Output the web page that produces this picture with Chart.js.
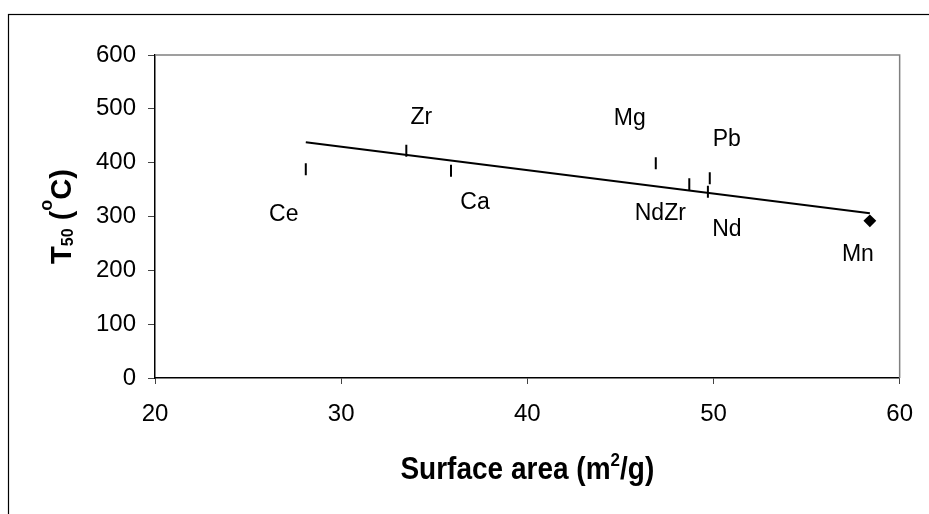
<!DOCTYPE html>
<html>
<head>
<meta charset="UTF-8">
<title>T50 vs surface area</title>
<script src="https://cdn.jsdelivr.net/npm/chart.js@4.4.0/dist/chart.umd.min.js"></script>
<style>
  html, body { margin: 0; padding: 0; background: #fff; }
  #wrap { width: 929px; height: 514px; }
</style>
</head>
<body>
<div id="wrap"><canvas id="c" width="929" height="514"></canvas></div>
<script>
// values
const catalysts = ["Ce", "Zr", "Ca", "Mg", "NdZr", "Pb", "Nd", "Mn"];
const surfaceArea = [28.1, 33.5, 35.9, 46.9, 48.7, 49.8, 49.7, 58.4];
const t50 = [388, 422, 385, 399, 360, 371, 346, 292];
// linear trendline, its two ends
const trendX = [28.1, 58.4];
const trendY = [438, 306];
const xTicks = [20, 30, 40, 50, 60];
const yTicks = [0, 100, 200, 300, 400, 500, 600];

// label placement next to each point, in px (style only)
const labelShift = [[-22, 46], [15, -33], [24, 32], [-26, -45], [-29, 29], [17, -39], [19, 38], [-12, 34]];

const FONT = "'Liberation Sans', Arial, sans-serif";

function drawRich(ctx, parts, size) {
  let total = 0;
  const m = parts.map(([t, s, d]) => {
    ctx.font = "bold " + Math.round(size * s) + "px " + FONT;
    const w = ctx.measureText(t).width;
    total += w;
    return { t, s, d, w };
  });
  let x = -total / 2;
  for (const p of m) {
    ctx.font = "bold " + Math.round(size * p.s) + "px " + FONT;
    ctx.fillText(p.t, x, p.d * size);
    x += p.w;
  }
}

const frame = {
  id: "frame",
  beforeDraw(chart) {
    const ctx = chart.ctx;
    ctx.save();
    ctx.strokeStyle = "#000";
    ctx.lineWidth = 1.2;
    ctx.strokeRect(8.5, 14.5, chart.width + 20, chart.height + 20);
    ctx.restore();
  },
  beforeDatasetsDraw(chart) {
    const { ctx, chartArea: a } = chart;
    ctx.save();
    ctx.strokeStyle = "#808080";
    ctx.lineWidth = 1.5;
    ctx.beginPath();
    ctx.moveTo(a.left, a.top);
    ctx.lineTo(a.right, a.top);
    ctx.lineTo(a.right, a.bottom);
    ctx.stroke();
    ctx.restore();
  },
};

const pointLabels = {
  id: "pointLabels",
  afterDatasetsDraw(chart) {
    const ctx = chart.ctx;
    const pts = chart.getDatasetMeta(1).data;
    ctx.save();
    ctx.fillStyle = "#000";
    ctx.font = "23px " + FONT;
    ctx.textAlign = "center";
    ctx.textBaseline = "middle";
    pts.forEach((p, i) => {
      ctx.fillText(catalysts[i], p.x + labelShift[i][0], p.y + labelShift[i][1]);
    });
    ctx.restore();
  },
};

const titles = {
  id: "titles",
  afterDraw(chart) {
    const { ctx, chartArea: a } = chart;
    ctx.save();
    ctx.fillStyle = "#000";
    ctx.textAlign = "left";
    ctx.textBaseline = "alphabetic";
    // x title
    ctx.save();
    ctx.translate((a.left + a.right) / 2, 479);
    ctx.scale(1, 1.1);
    drawRich(ctx, [["Surface area (m", 1, 0], ["2", 0.62, -0.42], ["/g)", 1, 0]], 28);
    ctx.restore();
    // y title
    ctx.save();
    ctx.translate(71, (a.top + a.bottom) / 2);
    ctx.rotate(-Math.PI / 2);
    drawRich(ctx, [["T", 1, 0], ["50", 0.55, 0.06], [" (", 1, 0], ["o", 0.62, -0.66], ["C)", 1, 0]], 29);
    ctx.restore();
    ctx.restore();
  },
};

new Chart(document.getElementById("c"), {
  type: "scatter",
  data: {
    datasets: [
      {
        type: "line",
        data: trendX.map((x, i) => ({ x, y: trendY[i] })),
        borderColor: "#000",
        borderWidth: 2,
        pointRadius: 0,
        fill: false,
        tension: 0,
      },
      {
        data: surfaceArea.map((x, i) => ({ x, y: t50[i] })),
        pointStyle: catalysts.map(c => (c === "Mn" ? "rectRot" : "line")),
        pointRotation: catalysts.map(c => (c === "Mn" ? 0 : 90)),
        pointRadius: catalysts.map(c => (c === "Mn" ? 5 : 6)),
        pointBorderWidth: 2,
        pointBorderColor: "#000",
        pointBackgroundColor: "#000",
        borderColor: "#000",
        backgroundColor: "#000",
      },
    ],
  },
  options: {
    responsive: false,
    animation: false,
    devicePixelRatio: 1,
    layout: { padding: { left: 0, top: 55, right: 25, bottom: 0 } },
    plugins: { legend: { display: false }, tooltip: { enabled: false } },
    scales: {
      x: {
        type: "linear",
        min: xTicks[0],
        max: xTicks[xTicks.length - 1],
        ticks: { stepSize: xTicks[1] - xTicks[0], color: "#000", font: { family: FONT, size: 24 }, padding: 16, maxRotation: 0 },
        grid: { drawOnChartArea: false, tickLength: 6, color: "#444", lineWidth: 1 },
        border: { color: "#000", width: 1.5 },
        afterFit: s => { s.height = 136; },
      },
      y: {
        min: yTicks[0],
        max: yTicks[yTicks.length - 1],
        ticks: { stepSize: yTicks[1] - yTicks[0], color: "#000", font: { family: FONT, size: 24 }, padding: 12 },
        grid: { drawOnChartArea: false, tickLength: 7, color: "#444", lineWidth: 1 },
        border: { color: "#000", width: 1.5 },
        afterFit: s => { s.width = 155; },
      },
    },
  },
  plugins: [frame, pointLabels, titles],
});
</script>
</body>
</html>
